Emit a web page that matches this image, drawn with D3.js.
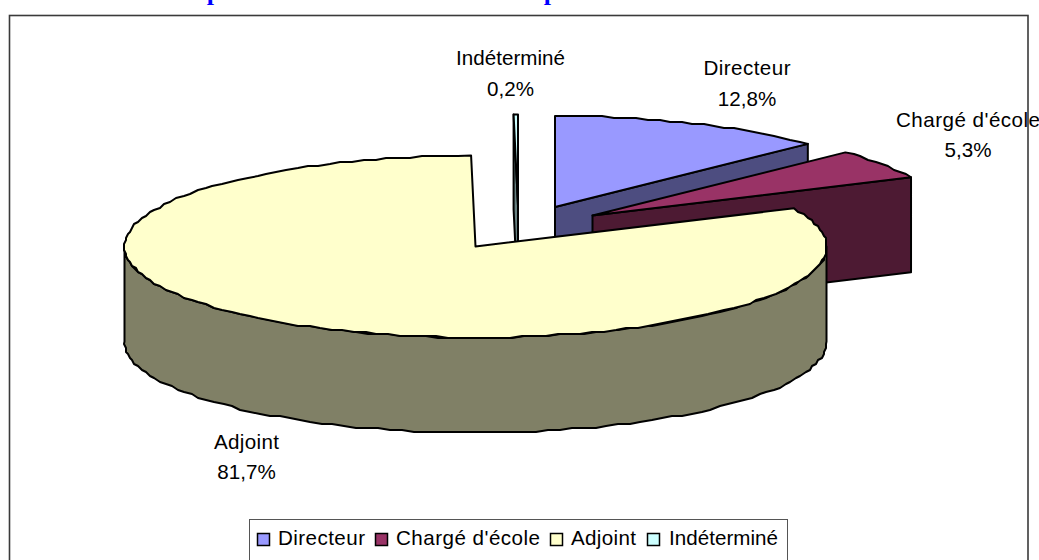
<!DOCTYPE html>
<html lang="fr">
<head>
<meta charset="utf-8">
<script src="https://cdn.jsdelivr.net/npm/d3@7"></script>
<style>
html,body{margin:0;padding:0;background:#fff;overflow:hidden}
svg{display:block}
text{font-family:"Liberation Sans",Arial,sans-serif;fill:#000}
</style>
</head>
<body>
<svg id="chart" width="1039" height="560"></svg>
<script>
const categories = ["Directeur", "Chargé d'école", "Adjoint", "Indéterminé"];
const shares = [12.8, 5.3, 81.7, 0.2];
const topColors = ["#9999FF", "#993366", "#FFFFCC", "#CCFFFF"];
const sideColors = ["#4D4D80", "#4D1A33", "#808066", "#668080"];
const titleGlyphs = ["p", "p"];

// Layout (centre of each exploded slice, ellipse radii, wall height)
const RX = 351, RY = 91, DEPTH = 95;
const centres = [[555, 207], [592.5, 215.5], [475.5, 246.5], [518, 205.5]];
const labelPos = [[747, 75, 106], [968, 127, 157], [246.5, 449, 479], [510.5, 65, 96]];
const textWidths = [87, 144, 65, 109];
const titlePos = [214, 551];
const legendX = [[257, 278], [375, 396], [550, 571], [647, 669]];
const fontSize = 20.6;

const svg = d3.select("#chart");

// Frame
svg.append("rect").attr("x", 9.5).attr("y", 15.5).attr("width", 1018.5).attr("height", 600)
  .attr("fill", "#fff").attr("stroke", "#3a3a3a").attr("stroke-width", 1.6);

// Title, only the descenders are inside the picture
svg.selectAll("text.title").data(titleGlyphs).join("text").attr("class", "title")
  .attr("x", (d, i) => titlePos[i]).attr("y", 0)
  .attr("text-anchor", "middle")
  .style("font-family", '"Liberation Serif",serif').style("font-weight", "bold")
  .style("font-size", "26px").style("fill", "#0000FF").text(d => d);

const arcs = d3.pie().sort(null).value(d => d)(shares);

const sx = d3.scaleLinear().domain([-1, 1]).range([-RX, RX]);
const sy = d3.scaleLinear().domain([-1, 1]).range([RY, -RY]);
const pt = (c, a, dz = 0) => [c[0] + sx(Math.sin(a)), c[1] + sy(Math.cos(a)) + dz];
const jag = v => Math.round(v / 2) * 2;
function rim(c, a0, a1, dz = 0) {
  const step = 2 * Math.PI / 180, out = [];
  const n = Math.max(1, Math.ceil((a1 - a0) / step));
  for (let i = 0; i <= n; i++) {
    const p = pt(c, a0 + (a1 - a0) * i / n, dz);
    out.push(i === 0 || i === n ? p : [jag(p[0]), jag(p[1])]);
  }
  return out;
}
const line = d3.line();
const closed = pts => line(pts) + "Z";
const stroke = { "stroke": "#000", "stroke-width": 2, "stroke-linejoin": "round" };
function poly(pts, fill) {
  const p = svg.append("path").attr("d", closed(pts)).attr("fill", fill);
  Object.entries(stroke).forEach(([k, v]) => p.attr(k, v));
  return p;
}

// Back to front: Indéterminé, Directeur, Chargé d'école, Adjoint
[3, 0, 1, 2].forEach(i => {
  const a = arcs[i], c = centres[i];
  const apex = [c[0], c[1]];
  const a0 = a.startAngle, a1 = a.endAngle;
  // Cut face on the right hand of slices in the upper right quadrant
  if (i === 0 || i === 1) {
    const e = pt(c, a1);
    poly([apex, e, [e[0], e[1] + DEPTH], [apex[0], apex[1] + DEPTH]], sideColors[i]);
  }
  // Cut face of the thin slice, seen from its left
  if (i === 3) {
    const s = pt(c, a0);
    poly([s, apex, [apex[0], apex[1] + DEPTH], [s[0], s[1] + DEPTH]], sideColors[i]);
  }
  // Outer wall, only the part that faces the viewer
  const w0 = Math.max(a0, Math.PI / 2), w1 = Math.min(a1, 1.5 * Math.PI);
  if (w1 > w0) {
    const top = rim(c, w0, w1), bot = rim(c, w0, w1, DEPTH).reverse();
    poly(top.concat(bot), sideColors[i]);
  }
  // Top face
  poly([apex].concat(rim(c, a0, a1)), topColors[i]);
});

// Data labels
const fmt = v => d3.format(".1f")(v).replace(".", ",") + "%";
const lab = svg.append("g").style("font-size", fontSize + "px").attr("text-anchor", "middle");
categories.forEach((name, i) => {
  lab.append("text").attr("x", labelPos[i][0]).attr("y", labelPos[i][1])
    .attr("textLength", textWidths[i]).text(name);
  lab.append("text").attr("x", labelPos[i][0]).attr("y", labelPos[i][2]).text(fmt(shares[i]));
});

// Legend (its lower edge falls outside the picture)
svg.append("rect").attr("x", 249.5).attr("y", 519.5).attr("width", 538).attr("height", 80)
  .attr("fill", "#fff").attr("stroke", "#555").attr("stroke-width", 1);
const leg = svg.append("g").style("font-size", fontSize + "px");
categories.forEach((name, i) => {
  leg.append("rect").attr("x", legendX[i][0] + .5).attr("y", 533.5).attr("width", 12).attr("height", 12)
    .attr("fill", topColors[i]).attr("stroke", "#000").attr("stroke-width", 1.5);
  leg.append("text").attr("x", legendX[i][1]).attr("y", 545)
    .attr("textLength", textWidths[i]).text(name);
});
</script>
</body>
</html>
